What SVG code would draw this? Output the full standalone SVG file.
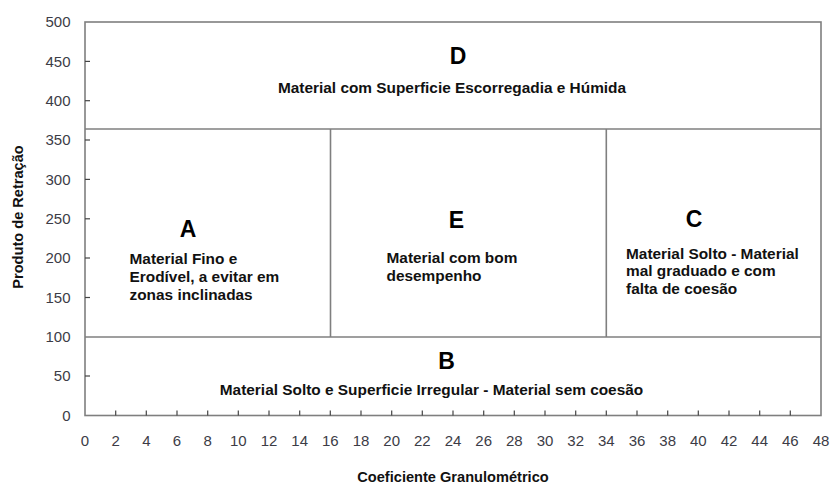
<svg xmlns="http://www.w3.org/2000/svg" width="831" height="483" viewBox="0 0 831 483">
<style>
.ax{stroke:#7f7f7f;stroke-width:1.6;fill:none}
.tk{stroke:#444;stroke-width:1.2}
.num{font-family:"Liberation Sans",Arial,sans-serif;font-size:15px;fill:#3c3c46}
.yl{text-anchor:end}
.xl{text-anchor:middle}
.big{font-family:"Liberation Sans",Arial,sans-serif;font-size:23px;font-weight:bold;fill:#000;text-anchor:middle}
.lab{font-family:"Liberation Sans",Arial,sans-serif;font-size:15.4px;font-weight:bold;fill:#111}
.ttl{font-family:"Liberation Sans",Arial,sans-serif;font-size:14.6px;font-weight:bold;fill:#111;text-anchor:middle}
.mid{text-anchor:middle}
</style>
<rect width="831" height="483" fill="#fff"/>
<g id="frame">
<rect class="ax" x="85" y="22" width="736" height="393.5"/>
<line class="ax" x1="85" y1="129" x2="821" y2="129"/>
<line class="ax" x1="85" y1="337" x2="821" y2="337"/>
<line class="ax" x1="330.5" y1="129" x2="330.5" y2="337"/>
<line class="ax" x1="606.3" y1="129" x2="606.3" y2="337"/>
</g>
<g id="yaxis">
<g class="tk">
<line x1="85" y1="376" x2="90" y2="376"/>
<line x1="85" y1="297.5" x2="90" y2="297.5"/>
<line x1="85" y1="258" x2="90" y2="258"/>
<line x1="85" y1="218.8" x2="90" y2="218.8"/>
<line x1="85" y1="179.4" x2="90" y2="179.4"/>
<line x1="85" y1="140" x2="90" y2="140"/>
<line x1="85" y1="100.7" x2="90" y2="100.7"/>
<line x1="85" y1="61.4" x2="90" y2="61.4"/>
</g>
<g class="num yl">
<text x="70.5" y="420.8">0</text>
<text x="70.5" y="381.3">50</text>
<text x="70.5" y="342.3">100</text>
<text x="70.5" y="302.8">150</text>
<text x="70.5" y="263.3">200</text>
<text x="70.5" y="224.1">250</text>
<text x="70.5" y="184.7">300</text>
<text x="70.5" y="145.3">350</text>
<text x="70.5" y="106">400</text>
<text x="70.5" y="66.7">450</text>
<text x="70.5" y="27.3">500</text>
</g>
<text class="ttl" transform="translate(22.5,217) rotate(-90)">Produto de Retração</text>
</g>
<g id="xaxis">
<g class="tk">
<line x1="115.7" y1="415.5" x2="115.7" y2="410.5"/>
<line x1="146.3" y1="415.5" x2="146.3" y2="410.5"/>
<line x1="177" y1="415.5" x2="177" y2="410.5"/>
<line x1="207.7" y1="415.5" x2="207.7" y2="410.5"/>
<line x1="238.3" y1="415.5" x2="238.3" y2="410.5"/>
<line x1="269" y1="415.5" x2="269" y2="410.5"/>
<line x1="299.7" y1="415.5" x2="299.7" y2="410.5"/>
<line x1="330.3" y1="415.5" x2="330.3" y2="410.5"/>
<line x1="361" y1="415.5" x2="361" y2="410.5"/>
<line x1="391.7" y1="415.5" x2="391.7" y2="410.5"/>
<line x1="422.3" y1="415.5" x2="422.3" y2="410.5"/>
<line x1="453" y1="415.5" x2="453" y2="410.5"/>
<line x1="483.7" y1="415.5" x2="483.7" y2="410.5"/>
<line x1="514.3" y1="415.5" x2="514.3" y2="410.5"/>
<line x1="545" y1="415.5" x2="545" y2="410.5"/>
<line x1="575.7" y1="415.5" x2="575.7" y2="410.5"/>
<line x1="606.3" y1="415.5" x2="606.3" y2="410.5"/>
<line x1="637" y1="415.5" x2="637" y2="410.5"/>
<line x1="667.7" y1="415.5" x2="667.7" y2="410.5"/>
<line x1="698.3" y1="415.5" x2="698.3" y2="410.5"/>
<line x1="729" y1="415.5" x2="729" y2="410.5"/>
<line x1="759.7" y1="415.5" x2="759.7" y2="410.5"/>
<line x1="790.3" y1="415.5" x2="790.3" y2="410.5"/>
</g>
<g class="num xl">
<text x="85" y="445.5">0</text>
<text x="115.7" y="445.5">2</text>
<text x="146.3" y="445.5">4</text>
<text x="177" y="445.5">6</text>
<text x="207.7" y="445.5">8</text>
<text x="238.3" y="445.5">10</text>
<text x="269" y="445.5">12</text>
<text x="299.7" y="445.5">14</text>
<text x="330.3" y="445.5">16</text>
<text x="361" y="445.5">18</text>
<text x="391.7" y="445.5">20</text>
<text x="422.3" y="445.5">22</text>
<text x="453" y="445.5">24</text>
<text x="483.7" y="445.5">26</text>
<text x="514.3" y="445.5">28</text>
<text x="545" y="445.5">30</text>
<text x="575.7" y="445.5">32</text>
<text x="606.3" y="445.5">34</text>
<text x="637" y="445.5">36</text>
<text x="667.7" y="445.5">38</text>
<text x="698.3" y="445.5">40</text>
<text x="729" y="445.5">42</text>
<text x="759.7" y="445.5">44</text>
<text x="790.3" y="445.5">46</text>
<text x="821" y="445.5">48</text>
</g>
<text class="ttl" x="453" y="481.5">Coeficiente Granulométrico</text>
</g>
<g id="zoneD">
<text class="big" x="458" y="63.5">D</text>
<text class="lab mid" x="452" y="93">Material com Superficie Escorregadia e Húmida</text>
</g>
<g id="zoneA">
<text class="big" x="188" y="237">A</text>
<text class="lab" x="129.5" y="263.5">Material Fino e</text>
<text class="lab" x="129.5" y="281.5">Erodível, a evitar em</text>
<text class="lab" x="129.5" y="299.5">zonas inclinadas</text>
</g>
<g id="zoneE">
<text class="big" x="456.5" y="228">E</text>
<text class="lab" x="386.5" y="263">Material com bom</text>
<text class="lab" x="386.5" y="280.5">desempenho</text>
</g>
<g id="zoneC">
<text class="big" x="694" y="227">C</text>
<text class="lab" x="626" y="258.5">Material Solto - Material</text>
<text class="lab" x="626" y="276">mal graduado e com</text>
<text class="lab" x="626" y="293.5">falta de coesão</text>
</g>
<g id="zoneB">
<text class="big" x="446.5" y="368.5">B</text>
<text class="lab mid" x="431.5" y="395">Material Solto e Superficie Irregular - Material sem coesão</text>
</g>
</svg>
